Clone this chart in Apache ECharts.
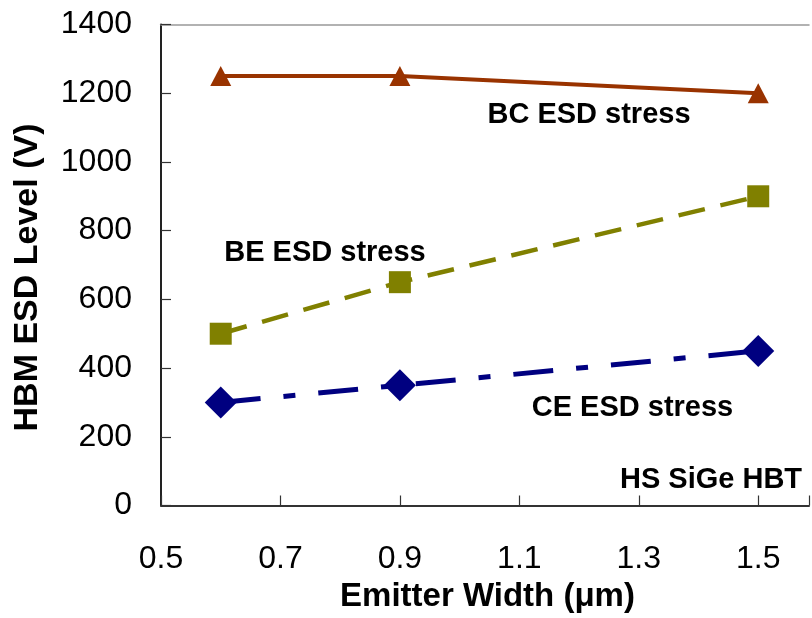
<!DOCTYPE html>
<html>
<head>
<meta charset="utf-8">
<script src="https://cdn.jsdelivr.net/npm/echarts@6/dist/echarts.min.js"></script>
<style>html,body{margin:0;padding:0;background:#fff}#c{width:812px;height:618px}</style>
</head>
<body>
<div id="c"></div>
<script>
const emitterWidth = [0.6, 0.9, 1.5];
const bcStress = [1250, 1250, 1200];
const beStress = [500, 650, 900];
const ceStress = [300, 350, 450];
const yTicks = [0, 200, 400, 600, 800, 1000, 1200, 1400];
const xTicks = [0.5, 0.7, 0.9, 1.1, 1.3, 1.5];

const FONT = '"Liberation Sans", Arial, sans-serif';
const pairs = v => emitterWidth.map((x, i) => [x, v[i]]);

const chart = echarts.init(document.getElementById('c'));
chart.setOption({
  animation: false,
  backgroundColor: '#fff',
  grid: { left: 161, top: 24.5, right: 0, bottom: 112.5 },
  xAxis: [{
    type: 'value', min: 0.5, max: 1.585, interval: 0.2,
    axisLine: { show: true, onZero: false, lineStyle: { color: '#333', width: 2 } },
    axisTick: { show: true, inside: true, length: 10, lineStyle: { color: '#333', width: 1.2 } },
    axisLabel: { margin: 38, fontSize: 32, color: '#000', fontFamily: FONT,
      formatter: v => xTicks.some(t => Math.abs(t - v) < 1e-6) ? v.toFixed(1) : '' },
    splitLine: { show: false }
  }, {
    type: 'value', position: 'top', min: 0.5, max: 1.585,
    axisLine: { show: true, onZero: false, lineStyle: { color: '#999', width: 1.5 } },
    axisTick: { show: false }, axisLabel: { show: false }, splitLine: { show: false }
  }],
  yAxis: {
    type: 'value', min: 0, max: 1400, interval: 200,
    axisLine: { show: true, lineStyle: { color: '#222', width: 2 } },
    axisTick: { show: true, inside: true, length: 10, lineStyle: { color: '#333', width: 1.2 } },
    axisLabel: { margin: 29, fontSize: 32, color: '#000', fontFamily: FONT,
      formatter: v => yTicks.includes(v) ? String(v) : '' },
    splitLine: { show: false }
  },
  series: [
    { name: 'BC ESD stress', type: 'line', data: pairs(bcStress),
      symbol: 'triangle', symbolSize: [21, 20],
      itemStyle: { color: '#993300' }, lineStyle: { color: '#993300', width: 4 } },
    { name: 'BE ESD stress', type: 'line', data: pairs(beStress),
      symbol: 'rect', symbolSize: [22, 22],
      itemStyle: { color: '#808000' }, lineStyle: { color: '#808000', width: 4.5, type: [27, 16] } },
    { name: 'CE ESD stress', type: 'line', data: pairs(ceStress),
      symbol: 'diamond', symbolSize: [32, 32],
      itemStyle: { color: '#000080' }, lineStyle: { color: '#000080', width: 5, type: [40, 23, 12, 23] } }
  ],
  graphic: [
    { type: 'text', x: 28, y: 277.5, rotation: Math.PI / 2,
      style: { text: 'HBM ESD Level (V)', font: 'bold 34px ' + FONT, fill: '#000', textAlign: 'center', textVerticalAlign: 'middle' } },
    { type: 'text', x: 487.5, y: 597,
      style: { text: 'Emitter Width (μm)', font: 'bold 33px ' + FONT, fill: '#000', textAlign: 'center', textVerticalAlign: 'middle' } },
    { type: 'text', x: 589, y: 115,
      style: { text: 'BC ESD stress', font: 'bold 29px ' + FONT, fill: '#000', textAlign: 'center', textVerticalAlign: 'middle' } },
    { type: 'text', x: 325, y: 253,
      style: { text: 'BE ESD stress', font: 'bold 29px ' + FONT, fill: '#000', textAlign: 'center', textVerticalAlign: 'middle' } },
    { type: 'text', x: 632.5, y: 407.5,
      style: { text: 'CE ESD stress', font: 'bold 29px ' + FONT, fill: '#000', textAlign: 'center', textVerticalAlign: 'middle' } },
    { type: 'text', x: 711, y: 480,
      style: { text: 'HS SiGe HBT', font: 'bold 29px ' + FONT, fill: '#000', textAlign: 'center', textVerticalAlign: 'middle' } }
  ]
});
</script>
</body>
</html>
